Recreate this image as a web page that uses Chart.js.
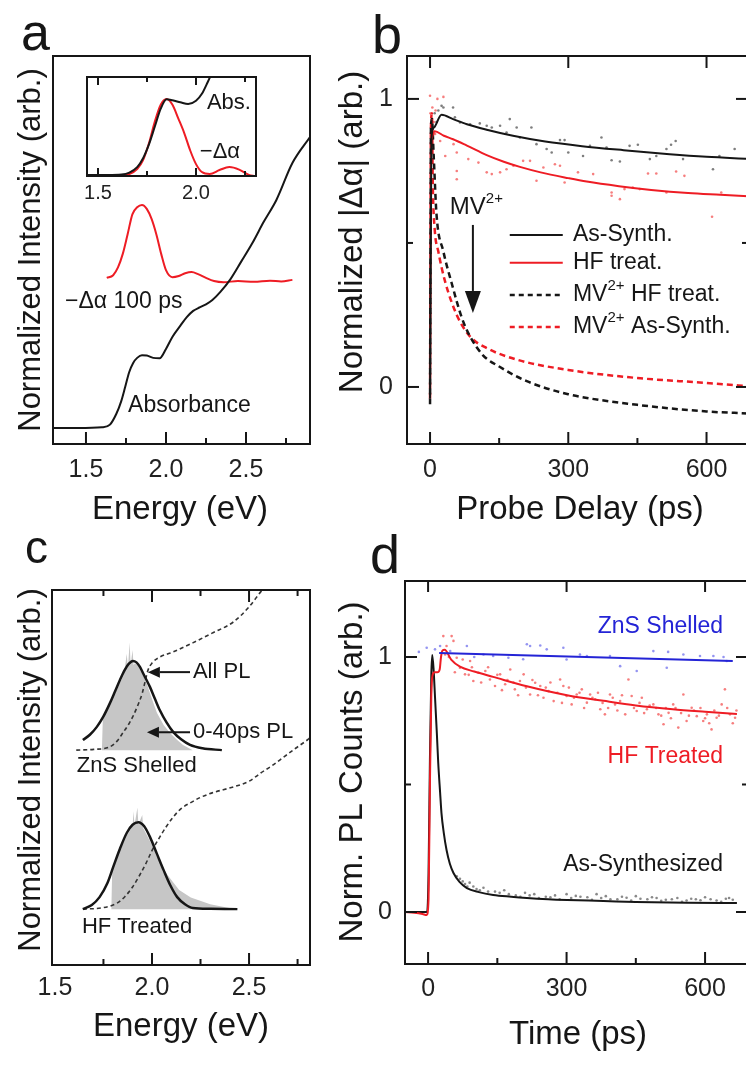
<!DOCTYPE html>
<html>
<head>
<meta charset="utf-8">
<script src="https://cdn.jsdelivr.net/npm/chart.js@4.4.1/dist/chart.umd.min.js"></script>
<style>
  html, body { margin: 0; padding: 0; background: #fff; overflow: hidden; width: 746px; height: 1076px; }
  canvas { position: absolute; }
</style>
</head>
<body>
<canvas id="chartA" width="373" height="540" style="left:0px;top:0px"></canvas>
<canvas id="chartInset" width="220" height="150" style="left:60px;top:60px"></canvas>
<canvas id="chartB" width="430" height="540" style="left:330px;top:0px"></canvas>
<canvas id="chartC" width="373" height="546" style="left:0px;top:530px"></canvas>
<canvas id="chartD" width="430" height="546" style="left:330px;top:530px"></canvas>
<script>
const FONT = '"Liberation Sans", Arial, sans-serif';
const INK = '#161616';
const RED = 'rgb(238,28,36)';
const BLUE = 'rgb(36,36,214)';
const GRAY = '#c6c6c6';

// ---- panel a: absorbance and -delta alpha at 100 ps ----
const aTicks = [1.5, 2.0, 2.5];
const aMinor = [1.75, 2.25, 2.75];
const aAbsE = [1.294, 1.45, 1.60, 1.65, 1.69, 1.72, 1.745, 1.77, 1.795, 1.82, 1.85, 1.88, 1.92, 1.96, 2.0, 2.04, 2.09, 2.13, 2.17, 2.21, 2.25, 2.29, 2.34, 2.40, 2.47, 2.54, 2.61, 2.69, 2.79, 2.9];
const aAbsV = [0.041, 0.041, 0.043, 0.05, 0.078, 0.11, 0.147, 0.185, 0.209, 0.222, 0.229, 0.228, 0.222, 0.221, 0.245, 0.276, 0.305, 0.327, 0.343, 0.352, 0.36, 0.371, 0.392, 0.423, 0.47, 0.518, 0.572, 0.629, 0.724, 0.791];
const aDaE = [1.63, 1.67, 1.70, 1.73, 1.76, 1.79, 1.82, 1.85, 1.88, 1.91, 1.94, 1.97, 2.0, 2.04, 2.08, 2.12, 2.16, 2.2, 2.25, 2.3, 2.36, 2.45, 2.55, 2.65, 2.72, 2.79];
const aDaV = [0.428, 0.435, 0.455, 0.49, 0.54, 0.592, 0.61, 0.616, 0.606, 0.58, 0.54, 0.49, 0.448, 0.43, 0.433, 0.44, 0.443, 0.438, 0.428, 0.42, 0.417, 0.42, 0.418, 0.421, 0.419, 0.423];

// inset of panel a
const inTicks = [1.5, 2.0];
const inMinor = [1.75, 2.25];
const inAbsE = [1.444, 1.55, 1.62, 1.66, 1.70, 1.73, 1.76, 1.79, 1.82, 1.85, 1.88, 1.92, 1.96, 2.0, 2.03, 2.06, 2.09];
const inAbsV = [0.01, 0.01, 0.015, 0.035, 0.09, 0.18, 0.32, 0.5, 0.68, 0.775, 0.765, 0.745, 0.727, 0.76, 0.83, 0.95, 1.08];
const inDaE = [1.62, 1.66, 1.70, 1.73, 1.76, 1.79, 1.82, 1.85, 1.88, 1.91, 1.94, 1.97, 2.0, 2.03, 2.07, 2.12, 2.17, 2.22, 2.27, 2.3];
const inDaV = [0.005, 0.02, 0.07, 0.16, 0.33, 0.55, 0.72, 0.778, 0.72, 0.58, 0.434, 0.26, 0.12, 0.04, 0.02, 0.06, 0.09, 0.065, 0.01, 0.0];

// ---- panel b: transient absorption kinetics ----
const bXTicks = [0, 300, 600];
const bXMinor = [150, 450];
const bYTicks = [0, 1];
const bYMinor = [0.5];
const bAsT = [0, 3, 8, 25, 50, 80, 123, 180, 250, 330, 420, 520, 600, 690];
const bAsV = [-0.04, 0.86, 0.9, 0.945, 0.93, 0.912, 0.893, 0.872, 0.852, 0.836, 0.822, 0.808, 0.799, 0.792];
const bHfT = [3, 10, 30, 50, 80, 123, 160, 195, 240, 300, 340, 410, 480, 560, 630, 690];
const bHfV = [0.86, 0.888, 0.872, 0.86, 0.838, 0.805, 0.782, 0.764, 0.745, 0.725, 0.713, 0.697, 0.684, 0.673, 0.667, 0.662];
const bMvHfT = [0, 1, 2, 4, 8, 14, 29, 47, 69, 87, 115, 151, 210, 300, 450, 600, 690];
const bMvHfV = [-0.06, 0.5, 0.9, 0.93, 0.8, 0.6, 0.47, 0.36, 0.24, 0.175, 0.11, 0.07, 0.02, -0.025, -0.062, -0.085, -0.092];
const bMvAsT = [0, 2, 4, 6, 10, 18, 32, 58, 87, 123, 188, 300, 450, 600, 690];
const bMvAsV = [-0.04, 0.9, 0.95, 0.7, 0.55, 0.47, 0.37, 0.25, 0.175, 0.135, 0.095, 0.059, 0.031, 0.014, 0.003];
const bAsDotT = [2, 4, 6, 10, 14, 18, 25, 29, 50, 54, 65, 87, 108, 123, 134, 152, 173, 188, 166, 195, 220, 231, 253, 282, 292, 264, 300, 332, 347, 372, 383, 394, 412, 433, 451, 477, 491, 513, 523, 533, 549, 614, 628, 661];
const bAsDotV = [0.9, 0.93, 0.88, 0.95, 0.92, 0.96, 0.976, 0.97, 0.97, 0.936, 0.918, 0.912, 0.915, 0.907, 0.901, 0.907, 0.93, 0.901, 0.883, 0.866, 0.901, 0.843, 0.826, 0.857, 0.857, 0.814, 0.814, 0.802, 0.837, 0.866, 0.831, 0.787, 0.783, 0.837, 0.841, 0.791, 0.802, 0.826, 0.841, 0.854, 0.791, 0.756, 0.802, 0.826];
const bHfDotT = [0, 1, 3, 5, 8, 12, 16, 29, 11, 22, 33, 51, 58, 58, 58, 83, 105, 123, 134, 152, 166, 181, 202, 217, 231, 246, 271, 282, 292, 321, 354, 394, 394, 412, 422, 440, 455, 473, 491, 513, 534, 552, 632, 612];
const bHfDotV = [1.011, 0.95, 0.9, 0.97, 0.92, 0.96, 1.0, 1.007, 0.878, 0.854, 0.802, 0.843, 0.814, 0.75, 0.721, 0.791, 0.779, 0.745, 0.739, 0.745, 0.756, 0.768, 0.785, 0.785, 0.716, 0.762, 0.773, 0.768, 0.71, 0.745, 0.739, 0.675, 0.664, 0.652, 0.687, 0.692, 0.687, 0.741, 0.741, 0.675, 0.748, 0.733, 0.675, 0.591];

// ---- panel c: PL spectra ----
const cTicks = [1.5, 2.0, 2.5];
const cMajor = [2.0, 2.5];
const cMinor = [1.75, 2.25, 2.75];
const cZnBase = 0.573;
const cHfBase = 0.149;
const cZnE = [1.644, 1.68, 1.716, 1.75, 1.784, 1.81, 1.835, 1.86, 1.88, 1.902, 1.92, 1.938, 1.96, 1.99, 2.015, 2.04, 2.075, 2.11, 2.15, 2.196, 2.26, 2.36];
const cZnV = [0.600, 0.614, 0.635, 0.663, 0.699, 0.73, 0.76, 0.787, 0.803, 0.811, 0.807, 0.795, 0.772, 0.741, 0.71, 0.68, 0.647, 0.621, 0.602, 0.587, 0.578, 0.573];
const cZnEarlyE = [1.742, 1.747, 1.784, 1.81, 1.835, 1.856, 1.87, 1.876, 1.885, 1.89, 1.9, 1.905, 1.912, 1.93, 1.948, 1.97, 1.99, 2.01, 2.026, 2.06, 2.093, 2.13, 2.16, 2.21];
const cZnEarlyV = [0.573, 0.661, 0.699, 0.725, 0.752, 0.775, 0.83, 0.792, 0.86, 0.80, 0.84, 0.80, 0.805, 0.798, 0.781, 0.755, 0.725, 0.695, 0.672, 0.64, 0.619, 0.6, 0.587, 0.573];
const cZnAbsE = [1.61, 1.70, 1.78, 1.82, 1.85, 1.88, 1.90, 1.925, 1.95, 1.965, 1.98, 2.0, 2.04, 2.11, 2.21, 2.31, 2.42, 2.50, 2.56, 2.62];
const cZnAbsV = [0.573, 0.575, 0.581, 0.597, 0.619, 0.642, 0.661, 0.69, 0.725, 0.757, 0.787, 0.805, 0.821, 0.835, 0.859, 0.885, 0.915, 0.955, 0.995, 1.03];
const cHfE = [1.644, 1.69, 1.73, 1.77, 1.80, 1.835, 1.87, 1.90, 1.93, 1.96, 1.99, 2.025, 2.06, 2.095, 2.13, 2.17, 2.21, 2.3, 2.44];
const cHfV = [0.149, 0.16, 0.181, 0.218, 0.261, 0.31, 0.352, 0.374, 0.381, 0.37, 0.341, 0.297, 0.253, 0.212, 0.181, 0.162, 0.152, 0.15, 0.149];
const cHfEarlyE = [1.79, 1.795, 1.83, 1.87, 1.90, 1.905, 1.91, 1.925, 1.93, 1.95, 1.955, 1.96, 2.0, 2.04, 2.08, 2.14, 2.2, 2.3, 2.43];
const cHfEarlyV = [0.149, 0.25, 0.30, 0.345, 0.37, 0.41, 0.372, 0.42, 0.375, 0.40, 0.365, 0.36, 0.32, 0.275, 0.24, 0.2, 0.18, 0.162, 0.149];
const cHfAbsE = [1.644, 1.75, 1.82, 1.86, 1.90, 1.935, 1.97, 2.0, 2.04, 2.075, 2.11, 2.15, 2.196, 2.25, 2.31, 2.42, 2.5, 2.56, 2.62, 2.68, 2.74, 2.80, 2.814];
const cHfAbsV = [0.149, 0.153, 0.165, 0.182, 0.208, 0.238, 0.272, 0.305, 0.341, 0.37, 0.395, 0.417, 0.432, 0.447, 0.459, 0.475, 0.49, 0.512, 0.532, 0.555, 0.578, 0.6, 0.606];

// ---- panel d: PL decays ----
const dXTicks = [0, 300, 600];
const dXMinor = [150, 450];
const dYTicks = [0, 1];
const dYMinor = [0.5];
const dZnT = [24, 660];
const dZnV = [1.016, 0.984];
const dHfT = [-50, -30, -12, -3, 1, 4, 7, 10, 14, 20, 25, 28, 31, 36, 50, 69, 100, 141, 214, 301, 380, 450, 530, 600, 669];
const dHfV = [0, -0.003, -0.008, -0.012, 0.05, 0.5, 0.85, 0.93, 0.94, 0.94, 0.95, 1.0, 1.025, 1.028, 0.99, 0.962, 0.943, 0.922, 0.885, 0.85, 0.828, 0.81, 0.795, 0.785, 0.776];
const dAsT = [-50, -10, -2, 1, 4, 7, 9, 12, 15, 19, 22, 26, 29, 34, 40, 47, 55, 68, 84, 110, 141, 180, 214, 260, 301, 380, 450, 560, 669];
const dAsV = [0, 0, 0, 0.15, 0.6, 0.93, 1.008, 0.95, 0.843, 0.7, 0.584, 0.47, 0.388, 0.31, 0.243, 0.19, 0.153, 0.118, 0.094, 0.078, 0.067, 0.06, 0.055, 0.05, 0.047, 0.043, 0.039, 0.036, 0.035];
const dZnDotT = [-20, -3, 15, 26, 48, 84, 100, 120, 141, 174, 206, 214, 221, 243, 257, 293, 300, 329, 344, 394, 416, 452, 488, 517, 520, 553, 589, 618, 640, 647];
const dZnDotV = [1.02, 1.036, 1.03, 1.043, 1.023, 1.043, 1.0, 1.01, 1.004, 0.997, 0.991, 1.05, 1.043, 1.045, 1.03, 1.036, 0.99, 1.01, 1.004, 1.004, 0.964, 0.945, 1.023, 0.958, 1.02, 1.01, 1.004, 1.004, 1.0, 0.984];
const dHfDotT = [33, 51, 55, 40, 37, 62, 69, 80, 91, 98, 109, 124, 134, 145, 156, 167, 178, 188, 199, 207, 221, 232, 243, 250, 261, 272, 286, 293, 300, 311, 322, 333, 344, 351, 362, 373, 383, 394, 405, 416, 427, 434, 441, 452, 463, 474, 488, 499, 510, 521, 531, 542, 553, 560, 571, 582, 596, 604, 614, 625, 636, 643, 654, 665,
  45, 58, 75, 88, 95, 115, 130, 150, 160, 172, 185, 195, 212, 226, 238, 255, 265, 280, 290, 305, 316, 328, 338, 356, 368, 378, 390, 400, 410, 420, 446, 458, 468, 480, 494, 505, 515, 526, 536, 548, 565, 576, 590, 600, 609, 620, 630, 648, 660, 668];
const dHfDotV = [1.082, 1.082, 1.063, 1.043, 1.01, 0.997, 0.958, 0.932, 0.984, 0.906, 0.938, 0.945, 0.912, 0.886, 0.932, 0.893, 0.951, 0.873, 0.906, 0.932, 0.853, 0.899, 0.886, 0.84, 0.866, 0.827, 0.912, 0.886, 0.847, 0.814, 0.853, 0.873, 0.821, 0.853, 0.834, 0.795, 0.775, 0.853, 0.814, 0.827, 0.775, 0.912, 0.847, 0.788, 0.84, 0.795, 0.814, 0.775, 0.736, 0.781, 0.814, 0.723, 0.853, 0.749, 0.801, 0.768, 0.749, 0.775, 0.716, 0.762, 0.814, 0.873, 0.775, 0.762,
  1.0, 0.94, 0.99, 0.93, 0.96, 0.9, 0.96, 0.93, 0.87, 0.91, 0.9, 0.85, 0.88, 0.91, 0.85, 0.88, 0.9, 0.86, 0.82, 0.88, 0.84, 0.86, 0.8, 0.84, 0.86, 0.82, 0.8, 0.84, 0.79, 0.85, 0.8, 0.82, 0.78, 0.81, 0.8, 0.77, 0.8, 0.76, 0.8, 0.78, 0.77, 0.79, 0.8, 0.76, 0.74, 0.79, 0.77, 0.8, 0.74, 0.79];
const dAsDotT = [69, 80, 90, 105, 120, 145, 165, 190, 210, 230, 255, 275, 300, 320, 345, 365, 385, 410, 430, 450, 475, 495, 515, 540, 560, 580, 600, 625, 645, 660,
  62, 75, 85, 98, 112, 130, 155, 175, 200, 220, 240, 265, 285, 310, 330, 355, 375, 395, 420, 440, 460, 485, 505, 528, 550, 570, 590, 612, 635, 652];
const dAsDotV = [0.13, 0.11, 0.115, 0.09, 0.095, 0.08, 0.085, 0.065, 0.075, 0.07, 0.06, 0.065, 0.07, 0.063, 0.058, 0.07, 0.062, 0.05, 0.056, 0.062, 0.05, 0.055, 0.048, 0.055, 0.045, 0.05, 0.058, 0.045, 0.052, 0.048,
  0.14, 0.12, 0.1, 0.1, 0.085, 0.08, 0.075, 0.07, 0.06, 0.065, 0.055, 0.058, 0.05, 0.055, 0.06, 0.048, 0.055, 0.05, 0.06, 0.045, 0.052, 0.058, 0.044, 0.05, 0.04, 0.052, 0.046, 0.05, 0.04, 0.055];

function xy(xs, ys) {
  return xs.map((x, i) => ({ x: x, y: ys[i] }));
}

function curve(xs, ys, color, extra) {
  return Object.assign({
    data: xy(xs, ys), borderColor: color, borderWidth: 2, pointRadius: 0,
    cubicInterpolationMode: 'monotone', fill: false, order: 1
  }, extra || {});
}

function dots(xs, ys, color) {
  return {
    type: 'scatter', data: xy(xs, ys), showLine: false, pointRadius: 1.3,
    pointBorderWidth: 0, pointBackgroundColor: color, order: 2
  };
}

function area(xs, ys, base) {
  return {
    data: xy(xs, ys), borderWidth: 0, pointRadius: 0, backgroundColor: GRAY,
    fill: { value: base }, order: 3
  };
}

// draws a run of text pieces, small raised pieces for superscripts
function drawParts(ctx, parts, x, y, size, align, color) {
  const segs = (typeof parts === 'string' ? [{ t: parts }] : parts).map(p => ({ t: p.t, size: p.size || size, dy: p.dy || 0 }));
  let w = 0;
  segs.forEach(s => { ctx.font = s.size + 'px ' + FONT; s.w = ctx.measureText(s.t).width; w += s.w; });
  let cx = align === 'center' ? x - w / 2 : align === 'right' ? x - w : x;
  ctx.fillStyle = color;
  ctx.textAlign = 'left';
  segs.forEach(s => { ctx.font = s.size + 'px ' + FONT; ctx.fillText(s.t, cx, y + s.dy); cx += s.w; });
}

const decor = {
  id: 'decor',
  afterDraw(chart, args, o) {
    const { ctx, chartArea: a } = chart;
    const sx = chart.scales.x, sy = chart.scales.y;
    const px = v => sx.getPixelForValue(v), py = v => sy.getPixelForValue(v);
    ctx.save();
    ctx.strokeStyle = INK;
    ctx.lineWidth = o.frameWidth || 2;
    ctx.strokeRect(a.left, a.top, a.right - a.left, a.bottom - a.top);

    (o.ticks || []).forEach(t => {
      t.at.forEach(v => {
        ctx.beginPath();
        if (t.side === 'bottom' || t.side === 'top') {
          const y0 = t.side === 'bottom' ? a.bottom : a.top;
          const dir = t.side === 'bottom' ? -1 : 1;
          ctx.moveTo(px(v), y0);
          ctx.lineTo(px(v), y0 + dir * t.len);
        } else {
          const x0 = t.side === 'left' ? a.left : a.right;
          const dir = t.side === 'left' ? 1 : -1;
          ctx.moveTo(x0, py(v));
          ctx.lineTo(x0 + dir * t.len, py(v));
        }
        ctx.stroke();
      });
    });

    (o.segments || []).forEach(s => {
      ctx.beginPath();
      ctx.strokeStyle = s.color;
      ctx.lineWidth = s.width || 2;
      ctx.setLineDash(s.dash || []);
      ctx.moveTo(px(s.from[0]), py(s.from[1]));
      ctx.lineTo(px(s.to[0]), py(s.to[1]));
      ctx.stroke();
      ctx.setLineDash([]);
    });

    (o.arrows || []).forEach(ar => {
      const x1 = px(ar.from[0]), y1 = py(ar.from[1]);
      const x2 = px(ar.to[0]), y2 = py(ar.to[1]);
      const ang = Math.atan2(y2 - y1, x2 - x1);
      const bx = x2 - Math.cos(ang) * ar.head, by = y2 - Math.sin(ang) * ar.head;
      ctx.strokeStyle = INK;
      ctx.lineWidth = 2;
      ctx.beginPath();
      ctx.moveTo(x1, y1);
      ctx.lineTo(bx, by);
      ctx.stroke();
      ctx.fillStyle = INK;
      ctx.beginPath();
      ctx.moveTo(x2, y2);
      ctx.lineTo(bx + Math.sin(ang) * ar.w / 2, by - Math.cos(ang) * ar.w / 2);
      ctx.lineTo(bx - Math.sin(ang) * ar.w / 2, by + Math.cos(ang) * ar.w / 2);
      ctx.closePath();
      ctx.fill();
    });

    (o.labels || []).forEach(l => {
      const p = l.px ? l.px : [px(l.at[0]), py(l.at[1])];
      ctx.save();
      ctx.translate(p[0], p[1]);
      if (l.rotate) ctx.rotate(l.rotate * Math.PI / 180);
      ctx.textBaseline = l.base || 'middle';
      drawParts(ctx, l.parts || l.text, 0, 0, l.size || 23, l.align || 'left', l.color || INK);
      ctx.restore();
    });
    ctx.restore();
  }
};

function makeChart(id, datasets, c) {
  const tickFont = { family: FONT, size: c.tickSize || 25 };
  return new Chart(document.getElementById(id), {
    type: 'line',
    data: { datasets: datasets },
    options: {
      responsive: false,
      animation: false,
      events: [],
      layout: { padding: c.pad },
      plugins: { legend: { display: false }, tooltip: { enabled: false }, decor: c.decor },
      scales: {
        x: {
          type: 'linear', min: c.xMin, max: c.xMax,
          grid: { display: false, drawTicks: false }, border: { display: false },
          ticks: { font: tickFont, color: '#222', padding: c.xPad, includeBounds: false, maxRotation: 0, autoSkip: false, callback: c.xFmt },
          afterBuildTicks: s => { s.ticks = c.xTicks.map(v => ({ value: v })); },
          afterFit: s => { s.height = c.xh; }
        },
        y: {
          type: 'linear', min: c.yMin, max: c.yMax, display: !!c.yw,
          grid: { display: false, drawTicks: false }, border: { display: false },
          ticks: { font: tickFont, color: '#222', padding: c.yPad || 0, includeBounds: false, autoSkip: false },
          afterBuildTicks: s => { s.ticks = (c.yTicks || []).map(v => ({ value: v })); },
          afterFit: s => { if (c.yw) s.width = c.yw; }
        }
      }
    },
    plugins: [decor]
  });
}

const eFmt = v => Number(v).toFixed(1);
const MV = [{ t: 'MV' }, { t: '2+', size: 15, dy: -9 }];

// panel a
makeChart('chartA', [
  curve(aAbsE, aAbsV, INK),
  curve(aDaE, aDaV, RED)
], {
  pad: { left: 53, top: 56, right: 63, bottom: 0 }, xh: 96, xPad: 11,
  xMin: 1.294, xMax: 2.9, yMin: 0, yMax: 1, xTicks: aTicks, xFmt: eFmt,
  decor: {
    ticks: [{ side: 'bottom', at: aTicks, len: 12 }, { side: 'bottom', at: aMinor, len: 6 }],
    labels: [
      { px: [21, 50], text: 'a', size: 52, base: 'alphabetic' },
      { px: [180, 510], text: 'Energy (eV)', size: 33, align: 'center' },
      { px: [31, 250], text: 'Normalized Intensity (arb.)', size: 31, align: 'center', rotate: -90 },
      { at: [1.369, 0.366], text: '\u2212\u0394\u03b1 100 ps', size: 23 },
      { at: [1.763, 0.1], text: 'Absorbance', size: 23 }
    ]
  }
});

makeChart('chartInset', [
  curve(inAbsE, inAbsV, INK),
  curve(inDaE, inDaV, RED)
], {
  pad: { left: 27, top: 17, right: 24, bottom: 0 }, xh: 34, xPad: 5, tickSize: 20,
  xMin: 1.444, xMax: 2.306, yMin: 0, yMax: 1, xTicks: inTicks, xFmt: eFmt,
  decor: {
    ticks: [
      { side: 'bottom', at: inTicks, len: 8 }, { side: 'bottom', at: inMinor, len: 5 },
      { side: 'top', at: inTicks, len: 8 }, { side: 'top', at: inMinor, len: 5 }
    ],
    labels: [
      { at: [2.168, 0.737], text: 'Abs.', size: 22, align: 'center' },
      { at: [2.122, 0.242], text: '\u2212\u0394\u03b1', size: 22, align: 'center' }
    ]
  }
});

// panel b
makeChart('chartB', [
  curve(bAsT, bAsV, INK),
  curve(bHfT, bHfV, RED),
  curve(bMvHfT, bMvHfV, INK, { borderDash: [6, 4], borderWidth: 2.5 }),
  curve(bMvAsT, bMvAsV, RED, { borderDash: [6, 4], borderWidth: 2.5 }),
  dots(bAsDotT, bAsDotV, 'rgba(40,40,40,0.6)'),
  dots(bHfDotT, bHfDotV, 'rgba(240,40,40,0.6)')
], {
  pad: { left: 0, top: 56, right: 12, bottom: 0 }, xh: 96, xPad: 11, yw: 77, yPad: 14,
  xMin: -50, xMax: 690, yMin: -0.198, yMax: 1.149, xTicks: bXTicks, yTicks: bYTicks,
  decor: {
    ticks: [
      { side: 'bottom', at: bXTicks, len: 12 }, { side: 'bottom', at: bXMinor, len: 6 },
      { side: 'top', at: bXTicks, len: 12 },
      { side: 'left', at: bYTicks, len: 12 }, { side: 'left', at: bYMinor, len: 6 },
      { side: 'right', at: bYTicks, len: 12 }, { side: 'right', at: bYMinor, len: 6 }
    ],
    segments: [
      { from: [173, 0.528], to: [288, 0.528], color: INK },
      { from: [173, 0.431], to: [288, 0.431], color: RED },
      { from: [173, 0.319], to: [288, 0.319], color: INK, dash: [5, 4], width: 2.5 },
      { from: [173, 0.208], to: [288, 0.208], color: RED, dash: [5, 4], width: 2.5 }
    ],
    arrows: [{ from: [93, 0.5625], to: [93, 0.257], head: 22, w: 16 }],
    labels: [
      { px: [42, 53], text: 'b', size: 54, base: 'alphabetic' },
      { px: [250, 510], text: 'Probe Delay (ps)', size: 33, align: 'center' },
      { px: [23, 232], text: 'Normalized |\u0394\u03b1| (arb.)', size: 33, align: 'center', rotate: -90 },
      { at: [43, 0.622], parts: MV, size: 24 },
      { at: [310, 0.528], text: 'As-Synth.', size: 23 },
      { at: [310, 0.431], text: 'HF treat.', size: 23 },
      { at: [310, 0.319], parts: MV.concat([{ t: ' HF treat.' }]), size: 23 },
      { at: [310, 0.208], parts: MV.concat([{ t: ' As-Synth.' }]), size: 23 }
    ]
  }
});

// panel c
makeChart('chartC', [
  curve(cZnE, cZnV, INK, { borderWidth: 2.5, order: 0 }),
  curve(cHfE, cHfV, INK, { borderWidth: 2.5, order: 0 }),
  curve(cZnAbsE, cZnAbsV, '#333', { borderDash: [4, 3], borderWidth: 1.6 }),
  curve(cHfAbsE, cHfAbsV, '#333', { borderDash: [4, 3], borderWidth: 1.6 }),
  area(cZnEarlyE, cZnEarlyV, cZnBase),
  area(cHfEarlyE, cHfEarlyV, cHfBase)
], {
  pad: { left: 52, top: 60, right: 63, bottom: 0 }, xh: 111, xPad: 8,
  xMin: 1.485, xMax: 2.814, yMin: 0, yMax: 1, xTicks: cTicks, xFmt: eFmt,
  decor: {
    ticks: [
      { side: 'bottom', at: cMajor, len: 12 }, { side: 'bottom', at: cMinor, len: 6 },
      { side: 'top', at: cMajor, len: 12 }, { side: 'top', at: cMinor, len: 6 }
    ],
    arrows: [
      { from: [2.196, 0.781], to: [1.979, 0.781], head: 12, w: 11 },
      { from: [2.196, 0.621], to: [1.974, 0.621], head: 12, w: 11 }
    ],
    labels: [
      { px: [25, 33], text: 'c', size: 46, base: 'alphabetic' },
      { px: [181, 497], text: 'Energy (eV)', size: 33, align: 'center' },
      { px: [31, 240], text: 'Normalized Intensity (arb.)', size: 31, align: 'center', rotate: -90 },
      { at: [2.211, 0.781], text: 'All PL', size: 22 },
      { at: [2.211, 0.621], text: '0-40ps PL', size: 22 },
      { at: [1.613, 0.531], text: 'ZnS Shelled', size: 22 },
      { at: [1.639, 0.101], text: 'HF Treated', size: 22 }
    ]
  }
});

// panel d
makeChart('chartD', [
  curve(dZnT, dZnV, BLUE, { cubicInterpolationMode: 'default' }),
  curve(dHfT, dHfV, RED),
  curve(dAsT, dAsV, INK),
  dots(dZnDotT, dZnDotV, 'rgba(60,60,230,0.55)'),
  dots(dHfDotT, dHfDotV, 'rgba(240,40,40,0.6)'),
  dots(dAsDotT, dAsDotV, 'rgba(40,40,40,0.55)')
], {
  pad: { left: 0, top: 51, right: 12, bottom: 0 }, xh: 112, xPad: 10, yw: 75, yPad: 13,
  xMin: -50, xMax: 693, yMin: -0.204, yMax: 1.298, xTicks: dXTicks, yTicks: dYTicks,
  decor: {
    ticks: [
      { side: 'bottom', at: dXTicks, len: 12 }, { side: 'bottom', at: dXMinor, len: 6 },
      { side: 'top', at: dXTicks, len: 11 },
      { side: 'left', at: dYTicks, len: 12 }, { side: 'left', at: dYMinor, len: 6 },
      { side: 'right', at: dYTicks, len: 12 }, { side: 'right', at: dYMinor, len: 6 }
    ],
    labels: [
      { px: [40, 43], text: 'd', size: 54, base: 'alphabetic' },
      { px: [248, 505], text: 'Time (ps)', size: 33, align: 'center' },
      { px: [23, 242], text: 'Norm. PL Counts (arb.)', size: 33, align: 'center', rotate: -90 },
      { at: [639, 1.118], text: 'ZnS Shelled', size: 23, align: 'right', color: BLUE },
      { at: [639, 0.608], text: 'HF Treated', size: 23, align: 'right', color: RED },
      { at: [639, 0.184], text: 'As-Synthesized', size: 23, align: 'right' }
    ]
  }
});
</script>
</body>
</html>
